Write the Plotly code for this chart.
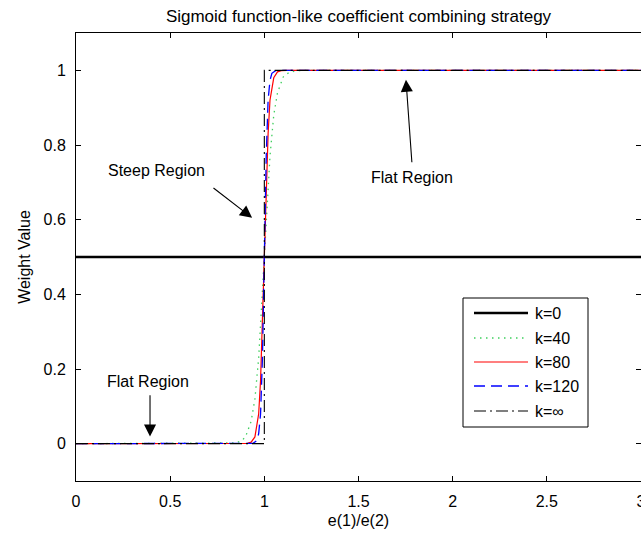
import plotly.graph_objects as go

# ---- data ----
x_k0 = [0, 3]
y_k0 = [0.5, 0.5]

x_k40 = [0, 0.80, 0.85, 0.88, 0.90, 0.93, 0.95, 0.97, 1.00, 1.03, 1.05, 1.07, 1.10, 1.13, 1.16, 1.20, 3]
y_k40 = [0, 0.0, 0.002, 0.008, 0.018, 0.06, 0.12, 0.23, 0.50, 0.77, 0.88, 0.94, 0.982, 0.994, 0.998, 1.0, 1]

x_k80 = [0, 0.88, 0.91, 0.93, 0.95, 0.97, 0.98, 1.00, 1.02, 1.03, 1.05, 1.07, 1.09, 1.12, 3]
y_k80 = [0, 0.0, 0.001, 0.004, 0.018, 0.08, 0.17, 0.50, 0.83, 0.92, 0.98, 0.996, 0.999, 1.0, 1]

x_k120 = [0, 0.92, 0.94, 0.96, 0.97, 0.98, 0.99, 1.00, 1.01, 1.02, 1.03, 1.04, 1.06, 1.08, 3]
y_k120 = [0, 0.0, 0.001, 0.008, 0.027, 0.08, 0.23, 0.50, 0.77, 0.92, 0.973, 0.992, 0.999, 1.0, 1]

x_kinf = [0, 1, 1, 3]
y_kinf = [0, 0, 1, 1]

series_names = ["k=0", "k=40", "k=80", "k=120", "k=\u221e"]

x_ticks = [0, 0.5, 1, 1.5, 2, 2.5, 3]
x_ticktext = ["0", "0.5", "1", "1.5", "2", "2.5", "3"]
y_ticks = [0, 0.2, 0.4, 0.6, 0.8, 1]
y_ticktext = ["0", "0.2", "0.4", "0.6", "0.8", "1"]

title_text = "Sigmoid function-like coefficient combining strategy"
x_title = "e(1)/e(2)"
y_title = "Weight Value"

# ---- styles ----
FONT = "Liberation Sans, Arial, sans-serif"
styles = [
    dict(color="black", width=2.5, dash="solid"),
    dict(color="#3ecf5e", width=1.3, dash="1.5px,4.5px"),
    dict(color="#ff0000", width=1.2, dash="solid"),
    dict(color="#0000ff", width=1.3, dash="11px,6px"),
    dict(color="black", width=1.1, dash="12px,4px,2px,4px"),
]
xs = [x_k0, x_k40, x_k80, x_k120, x_kinf]
ys = [y_k0, y_k40, y_k80, y_k120, y_kinf]

W, H = 641, 535
L, R, T, B = 76, 0, 33, 54
PW, PH = W - L - R, H - T - B

def px2paper(px, py):
    return (px - L) / PW, (H - B - py) / PH

fig = go.Figure()
for x, y, nm, st in zip(xs, ys, series_names, styles):
    fig.add_trace(go.Scatter(x=x, y=y, mode="lines", name=nm, line=st,
                             showlegend=False, hoverinfo="skip"))

# ---- legend drawn as a box ----
shapes = []
annotations = []
bx0, by0 = px2paper(463, 298)
bx1, by1 = px2paper(588, 427)
shapes.append(dict(type="rect", xref="paper", yref="paper", x0=bx0, y0=by1, x1=bx1, y1=by0,
                   line=dict(color="black", width=1), fillcolor="white", layer="above"))
row_py = [313, 338, 362, 386, 411]
for nm, st, py in zip(series_names, styles, row_py):
    lx0, ly = px2paper(474, py)
    lx1, _ = px2paper(528, py)
    shapes.append(dict(type="line", xref="paper", yref="paper", x0=lx0, x1=lx1, y0=ly, y1=ly,
                       line=dict(color=st["color"], width=st["width"], dash=st["dash"]), layer="above"))
    tx, _ = px2paper(533, py)
    annotations.append(dict(xref="paper", yref="paper", x=tx, y=ly, text=nm, showarrow=False,
                            xanchor="left", yanchor="middle", font=dict(family=FONT, size=16, color="black")))

# ---- text labels and arrows ----
labels = [
    ("Steep Region", 0.43, 0.731),
    ("Flat Region", 1.784, 0.712),
    ("Flat Region", 0.382, 0.166),
]
for t, x, y in labels:
    annotations.append(dict(x=x, y=y, xref="x", yref="y", text=t, showarrow=False,
                            font=dict(family=FONT, size=16, color="black")))

arrows = [
    ((0.722, 0.688), (0.935, 0.605)),
    ((1.784, 0.75), (1.752, 0.975)),
    ((0.393, 0.134), (0.393, 0.019)),
]
for (tx, ty), (hx, hy) in arrows:
    annotations.append(dict(x=hx, y=hy, ax=tx, ay=ty, xref="x", yref="y", axref="x", ayref="y",
                            text="", showarrow=True, arrowhead=2, arrowsize=2.2, arrowwidth=1.1,
                            arrowcolor="black", standoff=0, startstandoff=0))

axis_common = dict(showline=True, linecolor="black", linewidth=1, mirror="allticks",
                   ticks="inside", ticklen=5, tickcolor="black", tickwidth=1,
                   showgrid=False, zeroline=False, ticklabeloverflow="allow", automargin=False,
                   tickfont=dict(family=FONT, size=16, color="black"))

fig.update_layout(
    width=W, height=H,
    margin=dict(l=L, r=R, t=T, b=B, autoexpand=False),
    paper_bgcolor="white", plot_bgcolor="white",
    title=dict(text=title_text, x=(L + PW / 2) / W, xanchor="center",
               y=1 - 16 / H, yanchor="middle", yref="container",
               font=dict(family=FONT, size=17, color="black")),
    xaxis=dict(range=[0, 3], tickvals=x_ticks, ticktext=x_ticktext,
               title=dict(text=x_title, standoff=5, font=dict(family=FONT, size=16, color="black")),
               ticklabelstandoff=6, **axis_common),
    yaxis=dict(range=[-0.1, 1.1], tickvals=y_ticks, ticktext=y_ticktext,
               title=dict(text=y_title, standoff=8, font=dict(family=FONT, size=16, color="black")),
               ticklabelstandoff=6, **axis_common),
    shapes=shapes, annotations=annotations, showlegend=False,
)

fig.write_html("out.html", config={"displayModeBar": False},
               post_script="document.body.style.margin='0';document.body.style.overflow='hidden';")
